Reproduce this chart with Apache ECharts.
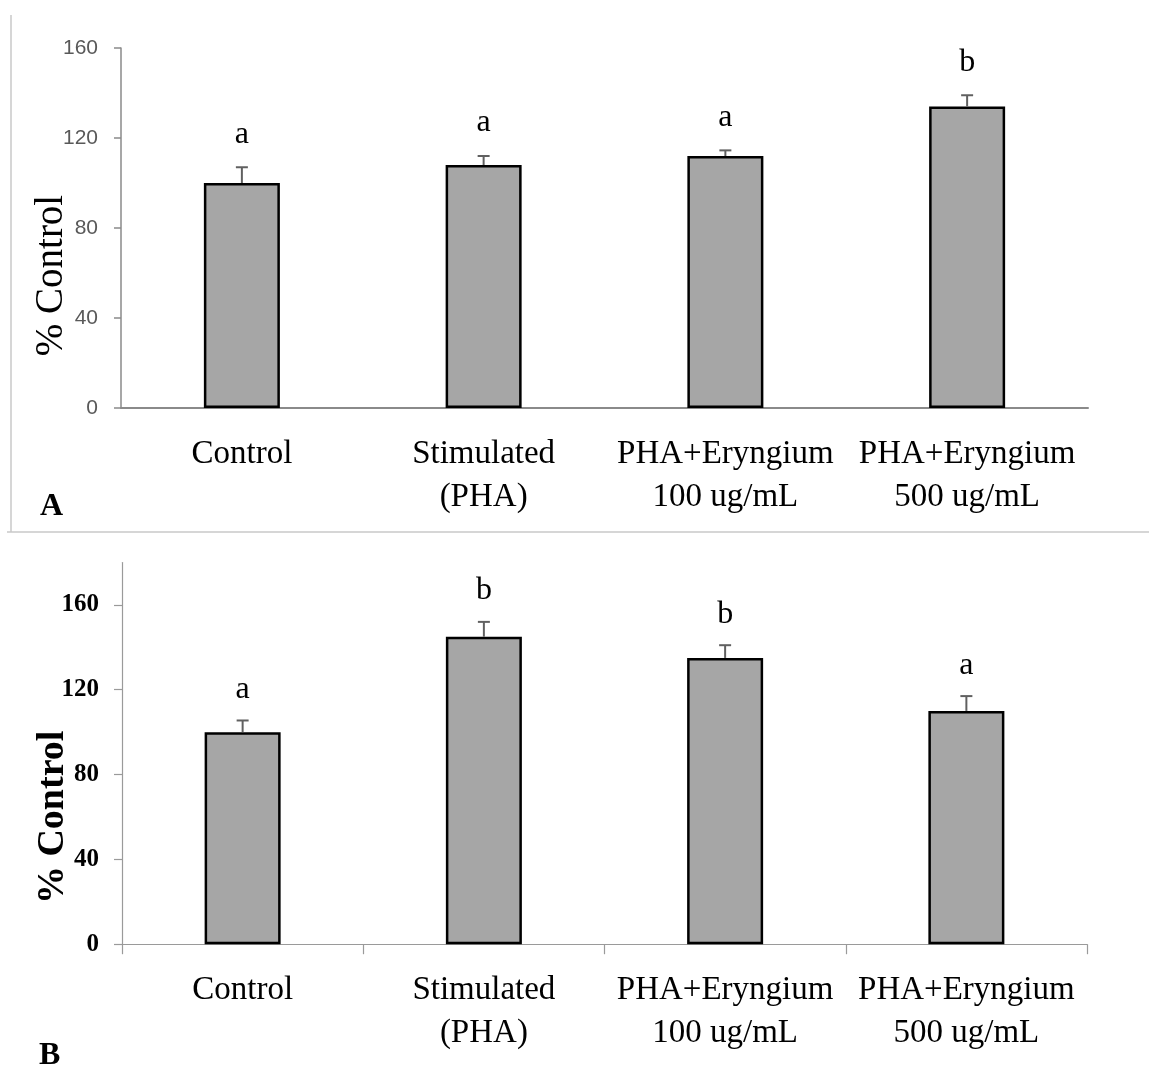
<!DOCTYPE html>
<html>
<head>
<meta charset="utf-8">
<script src="https://cdn.jsdelivr.net/npm/echarts@6/dist/echarts.min.js"></script>
<style>
  html, body { margin: 0; padding: 0; background: #fff; }
  #chart { width: 1149px; height: 1084px; }
</style>
</head>
<body>
<div id="chart"></div>
<script>
// ---- Data ----
const categories = ['Control', 'Stimulated\n(PHA)', 'PHA+Eryngium\n100 ug/mL', 'PHA+Eryngium\n500 ug/mL'];

const valuesA = [100, 108, 112, 134];
const errorsA = [7, 4, 2.5, 5];
const lettersA = ['a', 'a', 'a', 'b'];
const tickValuesA = [0, 40, 80, 120, 160];

const valuesB = [100, 145, 135, 110];
const errorsB = [5.5, 7, 6, 7];
const lettersB = ['a', 'b', 'b', 'a'];
const tickValuesB = [0, 40, 80, 120, 160];

const panelLabels = ['A', 'B'];

// ---- Chart ----
const chart = echarts.init(document.getElementById('chart'), null, { renderer: 'canvas' });

const serif = '"Liberation Serif", "Times New Roman", serif';
const sans = '"Liberation Sans", Arial, sans-serif';

function errRender(letters, letterOffset) {
  return function (params, api) {
    const i = api.value(0);
    const v = api.value(1);
    const e = api.value(2);
    const base = api.coord([i, v]);
    const top = api.coord([i, v + e]);
    const stroke = '#606060';
    return {
      type: 'group',
      children: [
        { type: 'line', shape: { x1: base[0], y1: base[1], x2: top[0], y2: top[1] }, style: { stroke: stroke, lineWidth: 2 } },
        { type: 'line', shape: { x1: top[0] - 6, y1: top[1], x2: top[0] + 6, y2: top[1] }, style: { stroke: stroke, lineWidth: 2 } },
        { type: 'text', x: top[0], y: top[1] - letterOffset,
          style: { text: letters[i], fill: '#000', font: '32px ' + serif, textAlign: 'center', textVerticalAlign: 'middle' } }
      ]
    };
  };
}

const option = {
  backgroundColor: '#fff',
  animation: false,
  grid: [
    { left: 121, top: 48, width: 967, height: 360, outerBoundsMode: 'none', containLabel: false },
    { left: 122, top: 562.5, width: 965, height: 381.7, outerBoundsMode: 'none', containLabel: false }
  ],
  xAxis: [
    {
      type: 'category', gridIndex: 0, data: categories,
      axisLine: { lineStyle: { color: '#8a8a8a', width: 2 } },
      axisTick: { show: false },
      axisLabel: { color: '#000', fontFamily: serif, fontSize: 33, lineHeight: 43, margin: 25, interval: 0 }
    },
    {
      type: 'category', gridIndex: 1, data: categories,
      axisLine: { lineStyle: { color: '#9a9a9a', width: 1.2 } },
      axisTick: { show: true, length: 10, lineStyle: { color: '#9a9a9a', width: 1.2 } },
      axisLabel: { color: '#000', fontFamily: serif, fontSize: 33, lineHeight: 43, margin: 25, interval: 0 }
    }
  ],
  yAxis: [
    {
      type: 'value', gridIndex: 0, min: 0, max: 160, interval: 40,
      name: '% Control', nameLocation: 'middle', nameRotate: 90, nameGap: 50, nameMoveOverlap: false,
      nameTextStyle: { fontFamily: serif, fontSize: 39, color: '#000', padding: [0, 95, 0, 0] },
      axisLine: { show: true, lineStyle: { color: '#8a8a8a', width: 1.5 } },
      axisTick: { show: true, length: 7, lineStyle: { color: '#8a8a8a', width: 1.5 }, customValues: tickValuesA },
      axisLabel: { color: '#595959', fontFamily: sans, fontSize: 21, margin: 23, customValues: tickValuesA },
      splitLine: { show: false }
    },
    {
      type: 'value', gridIndex: 1, min: 0, max: 180, interval: 40,
      name: '% Control', nameLocation: 'middle', nameRotate: 90, nameGap: 50, nameMoveOverlap: false,
      nameTextStyle: { fontFamily: serif, fontSize: 38, fontWeight: 'bold', color: '#000', padding: [0, 128, 0, 0] },
      axisLine: { show: true, lineStyle: { color: '#9a9a9a', width: 1.2 } },
      axisTick: { show: true, length: 8, lineStyle: { color: '#9a9a9a', width: 1.2 }, customValues: tickValuesB },
      axisLabel: { color: '#000', fontFamily: serif, fontWeight: 'bold', fontSize: 25, margin: 23, customValues: tickValuesB },
      splitLine: { show: false }
    }
  ],
  series: [
    {
      type: 'bar', xAxisIndex: 0, yAxisIndex: 0, data: valuesA, barWidth: 76,
      itemStyle: { color: '#a6a6a6', borderColor: '#000', borderWidth: 2.5 }
    },
    {
      type: 'custom', xAxisIndex: 0, yAxisIndex: 0, z: 5,
      data: valuesA.map((v, i) => [i, v, errorsA[i]]),
      renderItem: errRender(lettersA, 33)
    },
    {
      type: 'bar', xAxisIndex: 1, yAxisIndex: 1, data: valuesB, barWidth: 76,
      itemStyle: { color: '#a6a6a6', borderColor: '#000', borderWidth: 2.5 }
    },
    {
      type: 'custom', xAxisIndex: 1, yAxisIndex: 1, z: 5,
      data: valuesB.map((v, i) => [i, v, errorsB[i]]),
      renderItem: errRender(lettersB, 31)
    }
  ],
  graphic: [
    { type: 'line', shape: { x1: 11, y1: 15, x2: 11, y2: 532 }, style: { stroke: '#c8c8c8', lineWidth: 1.5 } },
    { type: 'line', shape: { x1: 7, y1: 532, x2: 1149, y2: 532 }, style: { stroke: '#c8c8c8', lineWidth: 1.5 } },
    { type: 'text', x: 40, y: 507, style: { text: panelLabels[0], fill: '#000', font: 'bold 32px ' + serif, textVerticalAlign: 'middle' } },
    { type: 'text', x: 39, y: 1056, style: { text: panelLabels[1], fill: '#000', font: 'bold 32px ' + serif, textVerticalAlign: 'middle' } }
  ]
};

chart.setOption(option);
</script>
</body>
</html>
